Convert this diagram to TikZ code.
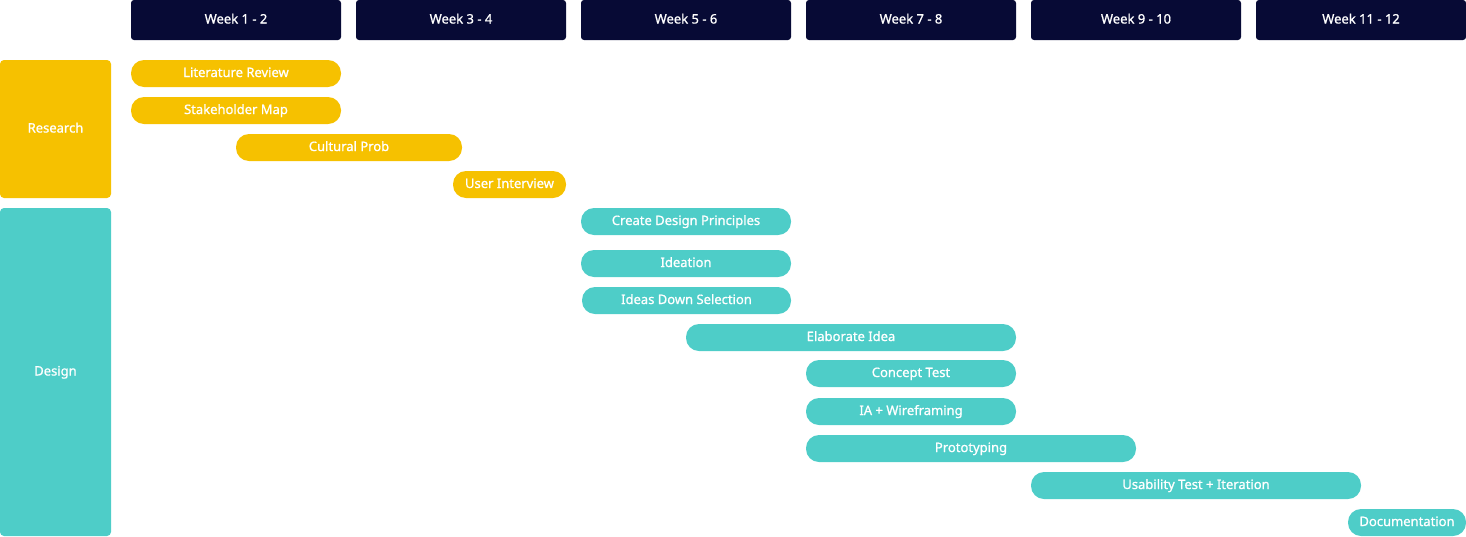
\documentclass[tikz,border=0pt]{standalone}
\usepackage{fontspec}
\setmainfont{Noto Sans}
\newfontfamily\labelfont{Noto Sans}[FakeBold=0.9]
\usepackage{xcolor}
\definecolor{navy}{HTML}{070A35}
\definecolor{research}{HTML}{F6C100}
\definecolor{design}{HTML}{4ECDC8}

\tikzset{
  week/.style={fill=navy, text=white, rounded corners=3pt, minimum height=40pt, minimum width=210pt, inner sep=0pt, text height=9.5pt, text depth=2.5pt},
  phase/.style={text=white, rounded corners=4pt, minimum width=111pt, inner sep=0pt, text height=9.5pt, text depth=2.5pt},
  task/.style={text=white, rounded corners=13pt, minimum height=27pt, inner sep=0pt, text height=9.5pt, text depth=2.5pt}
}

\begin{document}
\begin{tikzpicture}[x=1pt, y=-1pt, font=\labelfont\fontsize{13}{15}\selectfont]
  \useasboundingbox (0,0) rectangle (1466,536);
  % week headers
  \foreach \i/\lbl in {0/Week 1 - 2, 1/Week 3 - 4, 2/Week 5 - 6, 3/Week 7 - 8, 4/Week 9 - 10, 5/Week 11 - 12}
    \node[week] (w\i) at (236+225*\i,20) {\lbl};
  % phases
  \node[phase, fill=research, minimum height=138pt] (research) at (55.5,129) {Research};
  \node[phase, fill=design, minimum height=328pt] (design) at (55.5,372) {Design};
  % research tasks
  \node[task, fill=research, minimum width=210pt] (litrev) at (236,73.5) {Literature Review};
  \node[task, fill=research, minimum width=210pt] (stake) at (236,110.5) {Stakeholder Map};
  \node[task, fill=research, minimum width=226pt] (cultural) at (349,147.5) {Cultural Prob};
  \node[task, fill=research, minimum width=113pt] (interview) at (509.5,184.5) {User Interview};
  % design tasks
  \node[task, fill=design, minimum width=210pt] (principles) at (686,221.5) {Create Design Principles};
  \node[task, fill=design, minimum width=210pt] (ideation) at (686,263.5) {Ideation};
  \node[task, fill=design, minimum width=209pt] (downsel) at (686.5,300.5) {Ideas Down Selection};
  \node[task, fill=design, minimum width=330pt] (elaborate) at (851,337.5) {Elaborate Idea};
  \node[task, fill=design, minimum width=210pt] (concept) at (911,373.5) {Concept Test};
  \node[task, fill=design, minimum width=210pt] (wireframe) at (911,411.5) {IA + Wireframing};
  \node[task, fill=design, minimum width=330pt] (proto) at (971,448.5) {Prototyping};
  \node[task, fill=design, minimum width=330pt] (usability) at (1196,485.5) {Usability Test + Iteration};
  \node[task, fill=design, minimum width=118pt] (docs) at (1407,522.5) {Documentation};
\end{tikzpicture}
\end{document}
